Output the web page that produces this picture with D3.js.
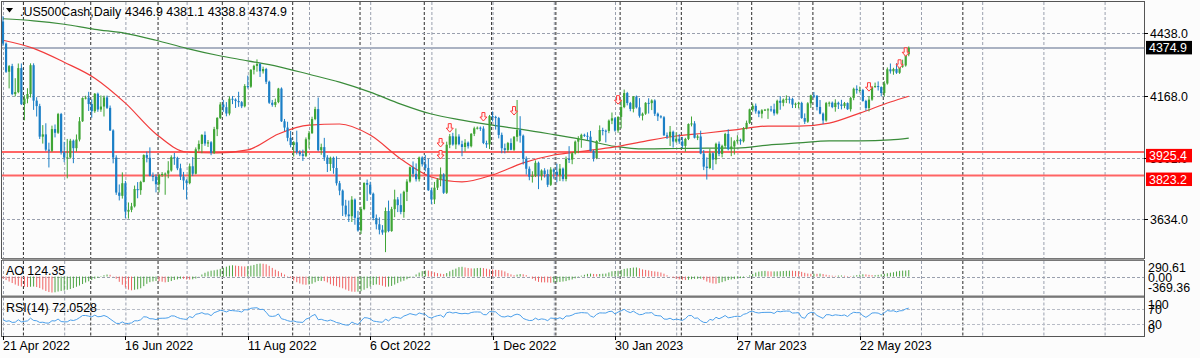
<!DOCTYPE html>
<html lang="en">
<head>
<meta charset="utf-8">
<script src="https://d3js.org/d3.v7.min.js"></script>
<style>
    body { margin: 0px; background: #fff; }
    svg text { font-family: "Liberation Sans", Arial, sans-serif; font-size: 12.4px; fill: #000; }
</style>
</head>
<body>
<svg id="chart" width="1200" height="358"></svg>
<script>
// ---- values ----
var symbolTitle = ".US500Cash,Daily";
var titleValues = "4346.9 4381.1 4338.8 4374.9";
var firstOpen = 4489.0;

// daily closes, one row per month (Apr 2022 .. Jun 2023); open = previous close
var closes = [
    4393.7,4271.8,4296.1,4175.2,4183.9,4287.5,4131.9,
    4155.4,4175.5,4300.2,4146.9,4123.3,3991.2,4001.1,3935.2,3930.1,4023.9,4008.0,4088.9,3923.7,3901.0,3901.4,3973.8,3941.5,3978.7,4057.8,4158.2,4160.0,4132.2,
    4101.2,4176.8,4108.5,4121.4,4160.7,4115.8,4018.0,3900.9,3749.6,3735.5,3790.0,3667.0,3674.8,3690.0,3764.8,3759.9,3795.7,3911.7,3900.1,3821.6,3818.8,3785.4,
    3825.3,3830.0,3831.4,3845.1,3902.6,3899.4,3854.4,3818.8,3801.8,3790.4,3863.2,3830.9,3936.7,3959.9,3998.9,3961.6,3966.8,3921.1,4023.6,4072.4,4130.3,
    4118.6,4091.2,4155.2,4151.9,4145.2,4140.1,4122.5,4210.2,4207.3,4280.2,4297.1,4305.2,4274.0,4283.7,4228.5,4137.9,4128.7,4140.8,4199.1,4057.7,4030.6,3986.2,3955.0,
    3966.9,3924.3,3915.0,3908.2,3979.9,4006.2,4067.4,4110.4,3932.7,3946.0,3901.4,3873.3,3899.9,3855.9,3789.9,3758.0,3693.2,3655.0,3647.3,3719.0,3640.5,3585.6,
    3678.4,3791.0,3783.3,3744.5,3639.7,3612.4,3588.8,3577.0,3669.9,3583.1,3678.0,3720.0,3695.2,3665.8,3752.8,3797.3,3859.1,3830.6,3807.3,3901.1,3872.0,
    3856.1,3759.7,3719.9,3770.6,3806.8,3828.1,3748.6,3956.4,3992.9,3957.3,3991.7,3958.8,3946.6,3965.3,3949.9,4003.6,4027.3,4030.0,4026.1,3963.9,3957.6,4080.1,
    4076.6,4071.7,3998.8,3941.3,3933.9,3963.5,3934.4,3990.6,4019.7,3995.3,3895.8,3852.4,3817.7,3821.6,3878.4,3822.4,3844.8,3829.3,3783.2,3849.3,3839.5,
    3824.1,3853.0,3808.1,3895.1,3892.1,3919.3,3969.6,3983.2,3999.1,3995.0,3991.0,3928.9,3898.9,3972.6,4019.8,4017.0,4016.2,4060.4,4070.6,4017.8,4076.6,
    4119.2,4179.8,4136.5,4111.1,4164.0,4117.9,4081.5,4090.5,4137.3,4136.1,4147.6,4090.4,4079.1,4075.0,3997.3,3991.1,4012.3,3970.0,3982.2,3970.2,
    3951.4,3981.4,4045.6,4048.4,3986.4,3992.0,3918.3,3861.6,3855.8,3919.3,3891.9,3960.3,3916.6,3951.6,4002.9,3937.0,3948.7,3971.0,3977.5,3971.3,4027.8,4050.8,4109.3,
    4124.5,4100.6,4090.4,4105.0,4108.0,4109.1,4108.9,4092.0,4146.2,4137.6,4151.3,4154.9,4154.5,4129.8,4133.5,4137.0,4071.6,4056.0,4135.4,4169.5,
    4167.9,4119.6,4090.8,4061.2,4136.3,4138.1,4119.2,4137.6,4130.6,4124.1,4136.3,4109.9,4158.8,4198.1,4192.0,4192.6,4145.6,4115.2,4151.3,4205.5,4210.0,4205.5,4179.8,
    4221.0,4282.4,4273.8,4283.9,4267.5,4293.9,4298.9,4346.9,4374.9
];

// wick length above the body / below the body, in points
var upWick = [
    23,5,5,10,60,20,20,
    15,25,8,8,15,10,40,48,30,15,20,5,5,45,80,8,5,22,18,3,8,25,
    20,3,5,48,8,8,10,5,10,35,47,10,32,15,15,30,5,3,15,45,15,10,
    5,8,5,40,8,18,5,20,20,5,12,40,8,15,3,15,10,5,10,3,10,
    20,22,10,12,5,40,5,8,45,3,5,20,5,10,5,5,12,15,3,5,10,25,30,
    5,50,8,20,8,10,10,10,50,15,40,10,5,5,50,10,5,25,60,15,5,30,
    10,3,15,13,5,15,30,20,15,45,10,42,10,50,5,10,3,25,45,4,5,
    40,40,10,25,5,30,5,13,10,15,35,10,15,15,5,3,7,5,5,10,10,5,
    20,5,5,10,20,5,20,3,130,60,5,10,10,20,10,5,5,10,20,10,5,
    35,20,5,10,55,5,5,10,5,5,15,25,5,3,20,10,5,5,25,5,3,
    30,15,5,5,3,5,40,5,3,20,5,5,5,5,5,12,25,5,28,20,
    20,5,3,30,10,8,25,15,40,20,5,5,10,5,5,20,40,5,20,5,5,10,3,
    10,10,5,5,3,5,15,25,5,20,5,15,8,5,5,5,5,20,5,3,
    15,3,30,5,5,5,5,15,5,20,5,3,5,5,15,15,5,5,15,5,15,20,3,
    10,8,25,5,25,5,25,5,6.2
];
var downWick = [
    10,5,72,5,10,5,4,
    70,20,15,40,45,10,30,7,72,5,20,5,10,20,90,5,65,15,8,3,6,30,
    28,7,10,10,43,5,2,25,10,20,12,28,30,10,5,35,20,2,20,2,20,35,
    35,8,90,20,5,30,8,15,40,70,5,10,3,10,40,10,15,10,5,30,5,
    20,12,8,20,30,20,8,5,8,5,20,25,25,10,10,5,8,10,5,3,15,15,10,
    50,10,8,22,5,40,3,5,5,20,15,35,30,25,10,20,45,10,25,25,30,5,
    15,5,70,5,10,22,20,10,85,5,3,35,30,10,25,40,5,15,10,10,10,
    15,3,20,20,10,30,5,5,15,5,20,5,40,20,10,5,10,5,10,5,15,20,
    20,50,15,22,15,10,2,5,20,30,25,25,15,25,5,58,20,15,10,5,30,
    30,25,10,10,15,20,5,50,40,5,15,2,15,5,5,20,50,10,15,5,10,
    50,5,10,10,15,5,8,20,5,45,30,10,20,5,3,10,40,26,5,10,
    10,25,5,10,3,10,3,15,50,5,45,20,10,15,10,5,30,35,10,15,5,5,5,
    10,10,15,20,3,40,10,10,5,30,15,15,20,15,15,20,3,10,5,20,
    10,15,3,15,5,15,5,20,20,15,10,3,10,10,15,10,3,12,15,5,3,15,15,
    15,5,10,15,5,5,5,5,8.1
];

// moving averages read every 10 bars
var maBars = [0,10,20,30,40,50,60,70,80,90,100,110,120,130,140,150,160,170,180,190,200,210,220,230,240,250,260,270,280,290,296];
var ma50 = [4408,4373,4313,4244,4136,4003,3925,3921,3934,4003,4041,4046,3998,3895,3817,3796,3826,3878,3912,3929,3947,3972,3994,4007,4022,4037,4037,4050,4093,4141,4166];
var ma200 = [4501,4492,4477,4455,4438,4408,4373,4343,4319,4294,4261,4227,4184,4132,4089,4063,4041,4022,4000,3977,3949,3938,3940,3942,3942,3955,3964,3973,3973,3977,3985];

// AO for the first 33 bars (before 34 bars of history exist)
var aoLead = [-40,-70,-100,-130,-160,-185,-200,-205,-210,-205,-200,-210,-230,-260,-290,-310,-320,-315,-300,-290,-280,-265,-250,-230,-205,-180,-150,-120,-95,-70,-45,-25,-10];
var aoTicks = [290.61, 0.00, -369.36];
var aoLabel = "AO 124.35";
var rsiSeed = [30, 42];
var rsiLevels = [70, 30];
var rsiTicks = [100, 70, 30, 0];
var rsiLabel = "RSI(14) 72.0528";

var priceTicks = [4438.0, 4168.0, 3901.0, 3634.0];
var levelLines = [3925.4, 3823.2];
var currentPrice = 4374.9;

var dateLabels = ["21 Apr 2022", "16 Jun 2022", "11 Aug 2022", "6 Oct 2022", "1 Dec 2022", "30 Jan 2023", "27 Mar 2023", "22 May 2023"];
var labelEvery = 40;
var gridEvery = 20;
var monthStarts = [7, 29, 51, 72, 95, 117, 138, 160, 181, 202, 222, 245, 265, 288, 314];

var arrowBars = [143, 143, 146, 157, 167, 201, 283, 293, 295];
var arrowPrices = [3964, 3912, 4028, 4076, 4102, 4149, 4205, 4304, 4356];

// ---- layout ----
var width = 1200, height = 358;
var plotL = 2, plotR = 1144;
var mainTop = 2, mainBot = 258;
var aoTop = 261, aoBot = 296;
var rsiTop = 297.5, rsiBot = 336;

var svg = d3.select('#chart');

var x = d3.scaleLinear().domain([0, 1]).range([3, 6.06]);
var y = d3.scaleLinear().domain([3634, 4438]).range([219.3, 33.3]);
var yAo = d3.scaleLinear().domain([aoTicks[2], aoTicks[0]]).range([aoBot - 1, aoTop + 1]);
var yRsi = d3.scaleLinear().domain([0, 100]).range([rsiBot - 1, rsiTop + 0.5]);

var bars = closes.map(function (c, i) {
    var o = i ? closes[i - 1] : firstOpen;
    return { i: i, o: o, c: c, h: Math.max(o, c) + upWick[i], l: Math.min(o, c) - downWick[i] };
});

// background
svg.append('rect').attr('width', width).attr('height', height).attr('fill', '#fcfcfc');

var defs = svg.append('defs');
function clip(id, top, bot) {
    defs.append('clipPath').attr('id', id).append('rect')
        .attr('x', plotL).attr('y', top).attr('width', plotR - plotL).attr('height', bot - top);
}
clip('cMain', mainTop, mainBot);
clip('cAo', aoTop, aoBot);
clip('cRsi', rsiTop, rsiBot);

var panels = [[mainTop, mainBot], [aoTop, aoBot], [rsiTop, rsiBot]];

// vertical grid
var nGrid = d3.range(0, 380, gridEvery);
panels.forEach(function (p) {
    svg.append('g').selectAll('line').data(nGrid).enter().append('line')
        .attr('x1', function (d) { return x(d) + 0.5; }).attr('x2', function (d) { return x(d) + 0.5; })
        .attr('y1', p[0]).attr('y2', p[1])
        .attr('stroke', '#9aa0ae').attr('stroke-dasharray', '3,2');
    svg.append('g').selectAll('line').data(monthStarts).enter().append('line')
        .attr('x1', function (d) { return x(d) - 1; }).attr('x2', function (d) { return x(d) - 1; })
        .attr('y1', p[0]).attr('y2', p[1])
        .attr('stroke', '#2a2a2a').attr('stroke-dasharray', '3,2');
});

// horizontal grid
svg.append('g').selectAll('line').data(priceTicks).enter().append('line')
    .attr('x1', plotL).attr('x2', plotR)
    .attr('y1', function (d) { return Math.round(y(d)) + 0.5; })
    .attr('y2', function (d) { return Math.round(y(d)) + 0.5; })
    .attr('stroke', '#9aa0ae').attr('stroke-dasharray', '3,2');
svg.append('line').attr('x1', plotL).attr('x2', plotR)
    .attr('y1', Math.round(yAo(0)) + 0.5).attr('y2', Math.round(yAo(0)) + 0.5)
    .attr('stroke', '#9aa0ae').attr('stroke-dasharray', '3,2');
svg.append('g').selectAll('line').data(rsiLevels).enter().append('line')
    .attr('x1', plotL).attr('x2', plotR)
    .attr('y1', function (d) { return Math.round(yRsi(d)) + 0.5; })
    .attr('y2', function (d) { return Math.round(yRsi(d)) + 0.5; })
    .attr('stroke', '#b8bcc6').attr('stroke-dasharray', '3,2');

var gMain = svg.append('g').attr('clip-path', 'url(#cMain)');

// horizontal lines
gMain.selectAll('.lvl').data(levelLines).enter().append('line')
    .attr('x1', plotL).attr('x2', plotR)
    .attr('y1', function (d) { return y(d); }).attr('y2', function (d) { return y(d); })
    .attr('stroke', '#ff6464').attr('stroke-width', 2);
gMain.append('line')
    .attr('x1', plotL).attr('x2', plotR)
    .attr('y1', y(currentPrice)).attr('y2', y(currentPrice))
    .attr('stroke', '#aab2c2').attr('stroke-width', 2);

// moving averages
var maLine = d3.line()
    .x(function (d) { return x(d[0]); })
    .y(function (d) { return y(d[1]); })
    .curve(d3.curveMonotoneX);
gMain.append('path').attr('d', maLine(d3.zip(maBars, ma200)))
    .attr('fill', 'none').attr('stroke', '#3a8c3a').attr('stroke-width', 1.2);
gMain.append('path').attr('d', maLine(d3.zip(maBars, ma50)))
    .attr('fill', 'none').attr('stroke', '#f23c3c').attr('stroke-width', 1.2);

// candles
var bullColor = '#3fa535', bearColor = '#1b7fc6';
var candles = gMain.selectAll('.candle').data(bars).enter().append('g');
candles.append('line')
    .attr('x1', function (d) { return x(d.i); }).attr('x2', function (d) { return x(d.i); })
    .attr('y1', function (d) { return y(d.h); }).attr('y2', function (d) { return y(d.l); })
    .attr('stroke', function (d) { return d.c >= d.o ? bullColor : bearColor; })
    .attr('stroke-width', 1);
candles.append('rect')
    .attr('x', function (d) { return x(d.i) - 1.1; })
    .attr('width', 2.2)
    .attr('y', function (d) { return y(Math.max(d.o, d.c)); })
    .attr('height', function (d) { return Math.max(1, Math.abs(y(d.o) - y(d.c))); })
    .attr('fill', function (d) { return d.c >= d.o ? bullColor : bearColor; });

// arrows
gMain.selectAll('.arrow').data(d3.zip(arrowBars, arrowPrices)).enter().append('path')
    .attr('transform', function (d) { return 'translate(' + x(d[0]) + ',' + y(d[1]) + ')'; })
    .attr('d', 'M-1.5,-4.5 L1.5,-4.5 L1.5,0 L3.5,0 L0,4 L-3.5,0 L-1.5,0 Z')
    .attr('fill', '#fff2f2').attr('stroke', '#ff3a3a').attr('stroke-width', 1);

// AO
var med = bars.map(function (d) { return (d.h + d.l) / 2; });
function sma(arr, end, n) {
    var s = 0;
    for (var k = end - n + 1; k <= end; k++) s += arr[k];
    return s / n;
}
var ao = bars.map(function (d, i) {
    return i < aoLead.length ? aoLead[i] : sma(med, i, 5) - sma(med, i, 34);
});
svg.append('g').attr('clip-path', 'url(#cAo)')
    .selectAll('rect').data(ao).enter().append('rect')
    .attr('x', function (d, i) { return x(i) - 0.5; })
    .attr('width', 1)
    .attr('y', function (d) { return Math.min(yAo(d), yAo(0)); })
    .attr('height', function (d) { return Math.abs(yAo(d) - yAo(0)); })
    .attr('fill', function (d, i) { return i > 0 && d > ao[i - 1] ? '#4ea443' : '#f06464'; });

// RSI
var ag = rsiSeed[0], al = rsiSeed[1];
var rsi = closes.map(function (c, i) {
    if (i > 0) {
        var ch = c - closes[i - 1];
        ag = (ag * 13 + Math.max(ch, 0)) / 14;
        al = (al * 13 + Math.max(-ch, 0)) / 14;
    }
    return 100 - 100 / (1 + ag / al);
});
svg.append('g').attr('clip-path', 'url(#cRsi)').append('path')
    .attr('d', d3.line().x(function (d, i) { return x(i); }).y(function (d) { return yRsi(d); })(rsi))
    .attr('fill', 'none').attr('stroke', '#4b9fea').attr('stroke-width', 1);

// panel borders
panels.forEach(function (p) {
    svg.append('rect').attr('x', plotL - 0.5).attr('y', p[0] - 0.5)
        .attr('width', plotR - plotL + 1).attr('height', p[1] - p[0] + 1)
        .attr('fill', 'none').attr('stroke', '#555').attr('stroke-width', 1);
});
svg.append('line').attr('x1', plotL).attr('x2', plotR).attr('y1', mainBot + 1.5).attr('y2', mainBot + 1.5)
    .attr('stroke', '#999').attr('stroke-width', 2);
svg.append('line').attr('x1', plotL).attr('x2', plotR).attr('y1', aoBot + 0.5).attr('y2', aoBot + 0.5)
    .attr('stroke', '#777').attr('stroke-width', 2);

// right axis
var axis = svg.append('g');
priceTicks.forEach(function (v) {
    var yy = Math.round(y(v)) + 0.5;
    axis.append('line').attr('x1', plotR).attr('x2', plotR + 4).attr('y1', yy).attr('y2', yy).attr('stroke', '#000');
    axis.append('text').attr('x', 1150).attr('y', yy).attr('dy', '0.35em').text(v.toFixed(1));
});
function priceBox(v, top, fill) {
    axis.append('rect').attr('x', 1146).attr('y', top).attr('width', 46).attr('height', 13.5).attr('fill', fill);
    axis.append('text').attr('x', 1149).attr('y', top + 6.8).attr('dy', '0.35em')
        .style('fill', '#fff').text(v.toFixed(1));
}
priceBox(currentPrice, y(currentPrice) - 7, '#000');
levelLines.forEach(function (v) { priceBox(v, y(v) - 3, '#ff0000'); });

aoTicks.forEach(function (v, k) {
    var yy = k === 0 ? aoTop + 7 : (k === 2 ? aoBot - 8 : yAo(v) + 1);
    axis.append('text').attr('x', 1148).attr('y', yy).attr('dy', '0.35em').text(v.toFixed(2));
});
rsiTicks.forEach(function (v, k) {
    var yy = k === 0 ? rsiTop + 7 : (k === 3 ? rsiBot - 7 : yRsi(v) + 1);
    axis.append('text').attr('x', 1148).attr('y', yy).attr('dy', '0.35em').text(v);
});

// date axis
dateLabels.forEach(function (t, k) {
    var xx = Math.round(x(k * labelEvery)) + 0.5;
    axis.append('line').attr('x1', xx).attr('x2', xx).attr('y1', rsiBot).attr('y2', rsiBot + 4).attr('stroke', '#000');
    axis.append('text').attr('x', xx - 0.5).attr('y', 350).text(t);
});

// titles
svg.append('path').attr('d', 'M6,8 L13,8 L9.5,12.5 Z').attr('fill', '#000');
svg.append('text').attr('x', 20).attr('y', 16).text(symbolTitle);
svg.append('text').attr('x', 125).attr('y', 16).text(titleValues);
svg.append('text').attr('x', 6).attr('y', 274.5).text(aoLabel);
svg.append('text').attr('x', 6).attr('y', 312).text(rsiLabel);
</script>
</body>
</html>
